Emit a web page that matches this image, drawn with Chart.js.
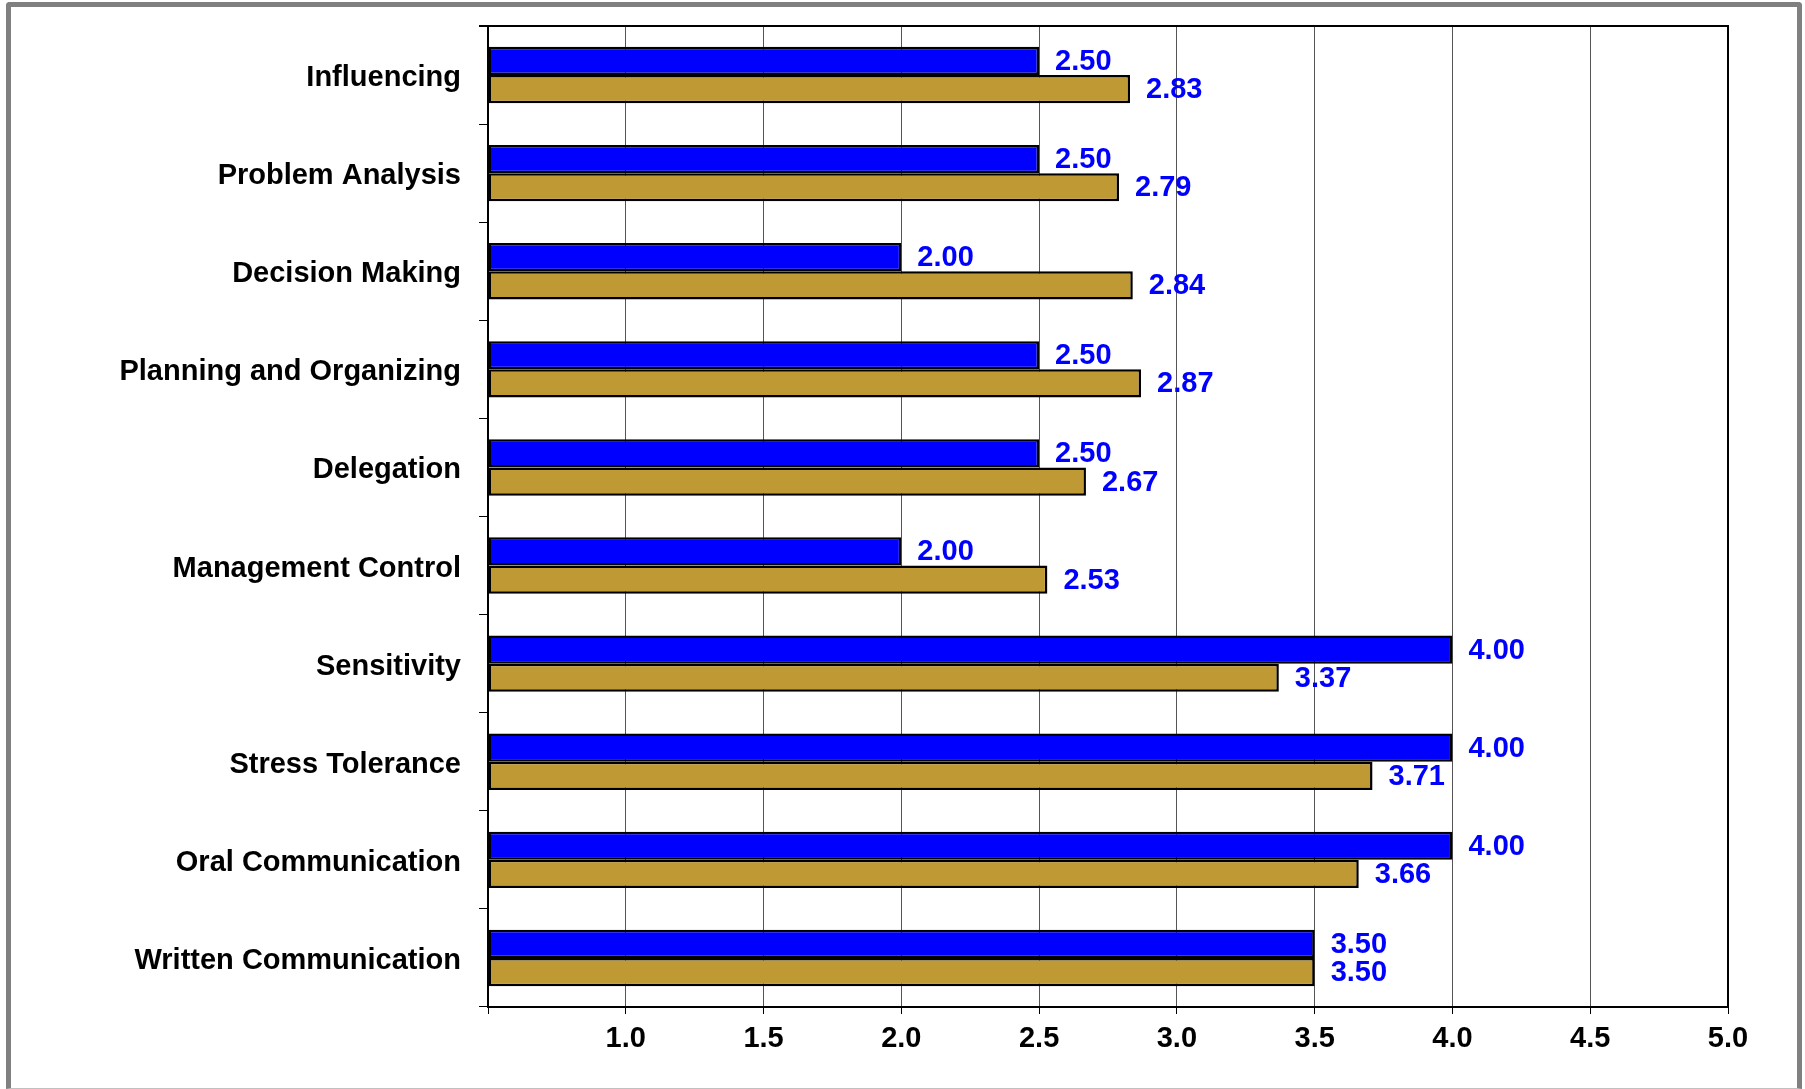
<!DOCTYPE html>
<html>
<head>
<meta charset="utf-8">
<script src="https://cdn.jsdelivr.net/npm/chart.js@4.4.1/dist/chart.umd.min.js"></script>
<style>
  body { margin: 0; background: #fff; }
  #wrap { position: relative; width: 1805px; height: 1089px; overflow: hidden; }
  #frame {
    position: absolute; left: 6px; top: 2px; width: 1786px; height: 1081px;
    border: 5px solid #808080; border-bottom: 1px solid #c0c0c0; border-radius: 4px 4px 0 0;
  }
  canvas { position: absolute; left: 0; top: 0; }
</style>
</head>
<body>
<div id="wrap">
  <div id="frame"></div>
  <canvas id="chart" width="1805" height="1089"></canvas>
</div>
<script>
const categories = [
  'Influencing', 'Problem Analysis', 'Decision Making', 'Planning and Organizing',
  'Delegation', 'Management Control', 'Sensitivity', 'Stress Tolerance',
  'Oral Communication', 'Written Communication'
];
const blueValues = [2.50, 2.50, 2.00, 2.50, 2.50, 2.00, 4.00, 4.00, 4.00, 3.50];
const goldValues = [2.83, 2.79, 2.84, 2.87, 2.67, 2.53, 3.37, 3.71, 3.66, 3.50];
const xMin = 0.5;
const xMax = 5.0;

const fontFamily = '"Liberation Sans", Arial, sans-serif';

// outline of plot area (top edge + right edge)
const plotBox = {
  id: 'plotBox',
  beforeDatasetsDraw(chart) {
    const { ctx, chartArea: a } = chart;
    ctx.save();
    ctx.strokeStyle = '#000';
    ctx.lineWidth = 2;
    ctx.beginPath();
    ctx.moveTo(a.left - 9, a.top);
    ctx.lineTo(a.right, a.top);
    ctx.lineTo(a.right, a.bottom);
    ctx.stroke();
    ctx.restore();
  }
};

// blue value labels at bar ends
const valueLabels = {
  id: 'valueLabels',
  afterDatasetsDraw(chart) {
    const { ctx } = chart;
    ctx.save();
    ctx.font = 'bold 29px ' + fontFamily;
    ctx.fillStyle = '#0000ff';
    ctx.textAlign = 'left';
    ctx.textBaseline = 'middle';
    chart.data.datasets.forEach((ds, i) => {
      chart.getDatasetMeta(i).data.forEach((bar, j) => {
        ctx.fillText(ds.data[j].toFixed(2), bar.x + 16, bar.y + 1);
      });
    });
    ctx.restore();
  }
};

new Chart(document.getElementById('chart'), {
  type: 'bar',
  data: {
    labels: categories,
    datasets: [
      {
        data: blueValues,
        backgroundColor: '#0000ff',
        borderColor: '#000',
        borderWidth: 2.5,
        borderSkipped: false,
        base: xMin
      },
      {
        data: goldValues,
        backgroundColor: '#bf9933',
        borderColor: '#000',
        borderWidth: 2.5,
        borderSkipped: false,
        base: xMin
      }
    ]
  },
  options: {
    indexAxis: 'y',
    responsive: false,
    animation: false,
    categoryPercentage: 0.575,
    barPercentage: 1.0,
    layout: { padding: { top: 26, right: 77, left: 0, bottom: 0 } },
    plugins: {
      legend: { display: false },
      tooltip: { enabled: false }
    },
    scales: {
      x: {
        min: xMin,
        max: xMax,
        afterFit(scale) { scale.height = 82; scale.paddingLeft = 0; scale.paddingRight = 0; },
        ticks: {
          stepSize: 0.5,
          padding: 8,
          color: '#000',
          font: { family: fontFamily, size: 29, weight: 'bold' },
          callback: v => (v < 0.99 ? '' : v.toFixed(1))
        },
        grid: {
          color: '#555',
          lineWidth: 1,
          tickLength: 7,
          tickColor: '#000'
        },
        border: { color: '#000', width: 2 }
      },
      y: {
        afterFit(scale) { scale.width = 488; scale.paddingTop = 0; scale.paddingBottom = 0; },
        ticks: {
          padding: 18,
          labelOffset: 3,
          color: '#000',
          font: { family: fontFamily, size: 29, weight: 'bold' }
        },
        grid: {
          offset: true,
          drawOnChartArea: false,
          tickLength: 9,
          tickColor: '#000'
        },
        border: { color: '#000', width: 2 }
      }
    }
  },
  plugins: [plotBox, valueLabels]
});
</script>
</body>
</html>
